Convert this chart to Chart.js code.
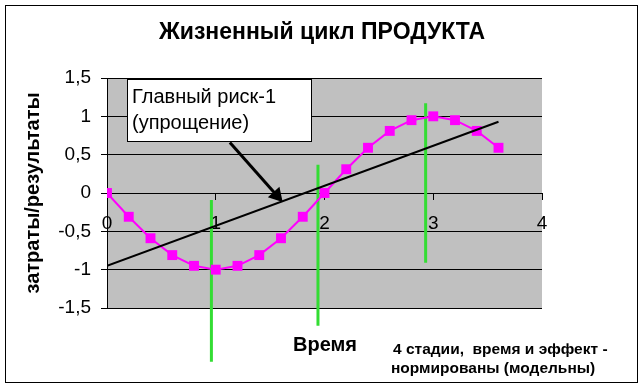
<!DOCTYPE html>
<html>
<head>
<meta charset="utf-8">
<script src="https://cdn.jsdelivr.net/npm/chart.js@4"></script>
<style>
  html, body { margin: 0; padding: 0; background: #fff; }
  #wrap { width: 643px; height: 388px; }
</style>
</head>
<body>
<div id="wrap"><canvas id="lifeChart" width="643" height="388"></canvas></div>
<script>
// данные с картинки
const timeX = [0, 0.2, 0.4, 0.6, 0.8, 1, 1.2, 1.4, 1.6, 1.8, 2, 2.2, 2.4, 2.6, 2.8, 3, 3.2, 3.4, 3.6];
const effectY = [0, -0.31, -0.59, -0.81, -0.95, -1, -0.95, -0.81, -0.59, -0.31, 0, 0.31, 0.59, 0.81, 0.95, 1, 0.95, 0.81, 0.59];
const riskX = [0, 3.6];
const riskY = [-0.95, 0.93];
const stageX = [0.96, 1.94, 2.93];
const stageTop = [-0.09, 0.37, 1.17];
const stageBottom = [-2.2, -1.73, -0.91];
const arrowX = [1.13, 1.56];
const arrowY = [0.66, -0.03];
const xTicks = [0, 1, 2, 3, 4];
const yTicks = [-1.5, -1, -0.5, 0, 0.5, 1, 1.5];

const FONT = '"Liberation Sans", Arial, sans-serif';
const toPts = (xs, ys) => xs.map((x, i) => ({ x, y: ys[i] }));

const stageSets = stageX.map((x, i) => ({
  data: [{ x, y: stageTop[i] }, { x, y: stageBottom[i] }],
  borderColor: '#33dd33',
  borderWidth: 3,
  pointRadius: 0,
  showLine: true,
  clip: false
}));

const decor = {
  id: 'decor',
  beforeDraw(chart) {
    const { ctx, chartArea: a } = chart;
    ctx.save();
    ctx.fillStyle = '#fff';
    ctx.fillRect(0, 0, chart.width, chart.height);
    ctx.fillStyle = '#c0c0c0';
    ctx.fillRect(a.left, a.top, a.right - a.left, a.bottom - a.top);
    ctx.restore();
  },
  beforeDatasetsDraw(chart) {
    const { ctx } = chart;
    ctx.save();
    // подпись с риском
    ctx.fillStyle = '#fff';
    ctx.fillRect(127, 79, 185, 63);
    ctx.strokeStyle = '#000';
    ctx.lineWidth = 1;
    ctx.strokeRect(127.5, 79.5, 184, 62);
    ctx.fillStyle = '#000';
    ctx.font = '20px ' + FONT;
    ctx.textBaseline = 'middle';
    ctx.fillText('Главный риск-1', 132, 97);
    ctx.fillText('(упрощение)', 132, 123);
    ctx.restore();
  },
  afterDraw(chart) {
    const { ctx } = chart;
    ctx.save();
    ctx.strokeStyle = '#000';
    ctx.lineWidth = 1;
    ctx.strokeRect(5.5, 5.5, 632, 377);
    ctx.fillStyle = '#000';
    ctx.textBaseline = 'middle';
    ctx.textAlign = 'center';
    ctx.font = 'bold 23px ' + FONT;
    ctx.fillText('Жизненный цикл ПРОДУКТА', 322, 33);
    ctx.font = 'bold 20px ' + FONT;
    ctx.fillText('Время', 325, 345);
    ctx.textAlign = 'left';
    ctx.font = 'bold 15.5px ' + FONT;
    ctx.fillText('4 стадии,  время и эффект -', 393, 350);
    ctx.fillText('нормированы (модельны)', 391, 369);
    ctx.restore();
  }
};

new Chart(document.getElementById('lifeChart'), {
  type: 'scatter',
  data: {
    datasets: [
      {
        data: toPts(riskX, riskY),
        borderColor: '#000',
        borderWidth: 2,
        pointRadius: 0,
        showLine: true
      },
      {
        data: toPts(timeX, effectY),
        borderColor: '#ff00ff',
        backgroundColor: '#ff00ff',
        borderWidth: 2,
        pointStyle: 'rect',
        pointRadius: 7,
        pointBorderWidth: 0,
        showLine: true
      },
      ...stageSets,
      {
        data: toPts(arrowX, arrowY),
        borderColor: '#000',
        backgroundColor: '#000',
        borderWidth: 3,
        pointStyle: 'triangle',
        pointRadius: [0, 6],
        pointRotation: 138,
        showLine: true,
        clip: false
      }
    ]
  },
  options: {
    responsive: false,
    animation: false,
    events: [],
    layout: { padding: { left: 0, top: 78, right: 101, bottom: 80 } },
    plugins: { legend: { display: false }, tooltip: { enabled: false } },
    scales: {
      x: {
        type: 'linear',
        position: { y: 0 },
        min: 0,
        max: 4,
        afterFit(s) { s.height = 0; },
        afterBuildTicks(s) { s.ticks = xTicks.map(v => ({ value: v })); },
        grid: { drawOnChartArea: false, color: '#000', tickLength: 6 },
        border: { display: true, color: '#000' },
        ticks: { color: '#000', padding: 13, font: { family: FONT, size: 19 }, maxRotation: 0 }
      },
      y: {
        min: -1.5,
        max: 1.5,
        afterFit(s) { s.width = 107; },
        afterBuildTicks(s) { s.ticks = yTicks.map(v => ({ value: v })); },
        grid: { color: '#000', tickLength: 6 },
        border: { display: true, color: '#000' },
        title: {
          display: true,
          text: 'затраты/результаты',
          color: '#000',
          font: { family: FONT, size: 20, weight: 'bold' },
          padding: { top: 21, bottom: 0 }
        },
        ticks: {
          color: '#000',
          padding: 10,
          font: { family: FONT, size: 19 },
          callback: v => String(v).replace('.', ',')
        }
      }
    }
  },
  plugins: [decor]
});
</script>
</body>
</html>
